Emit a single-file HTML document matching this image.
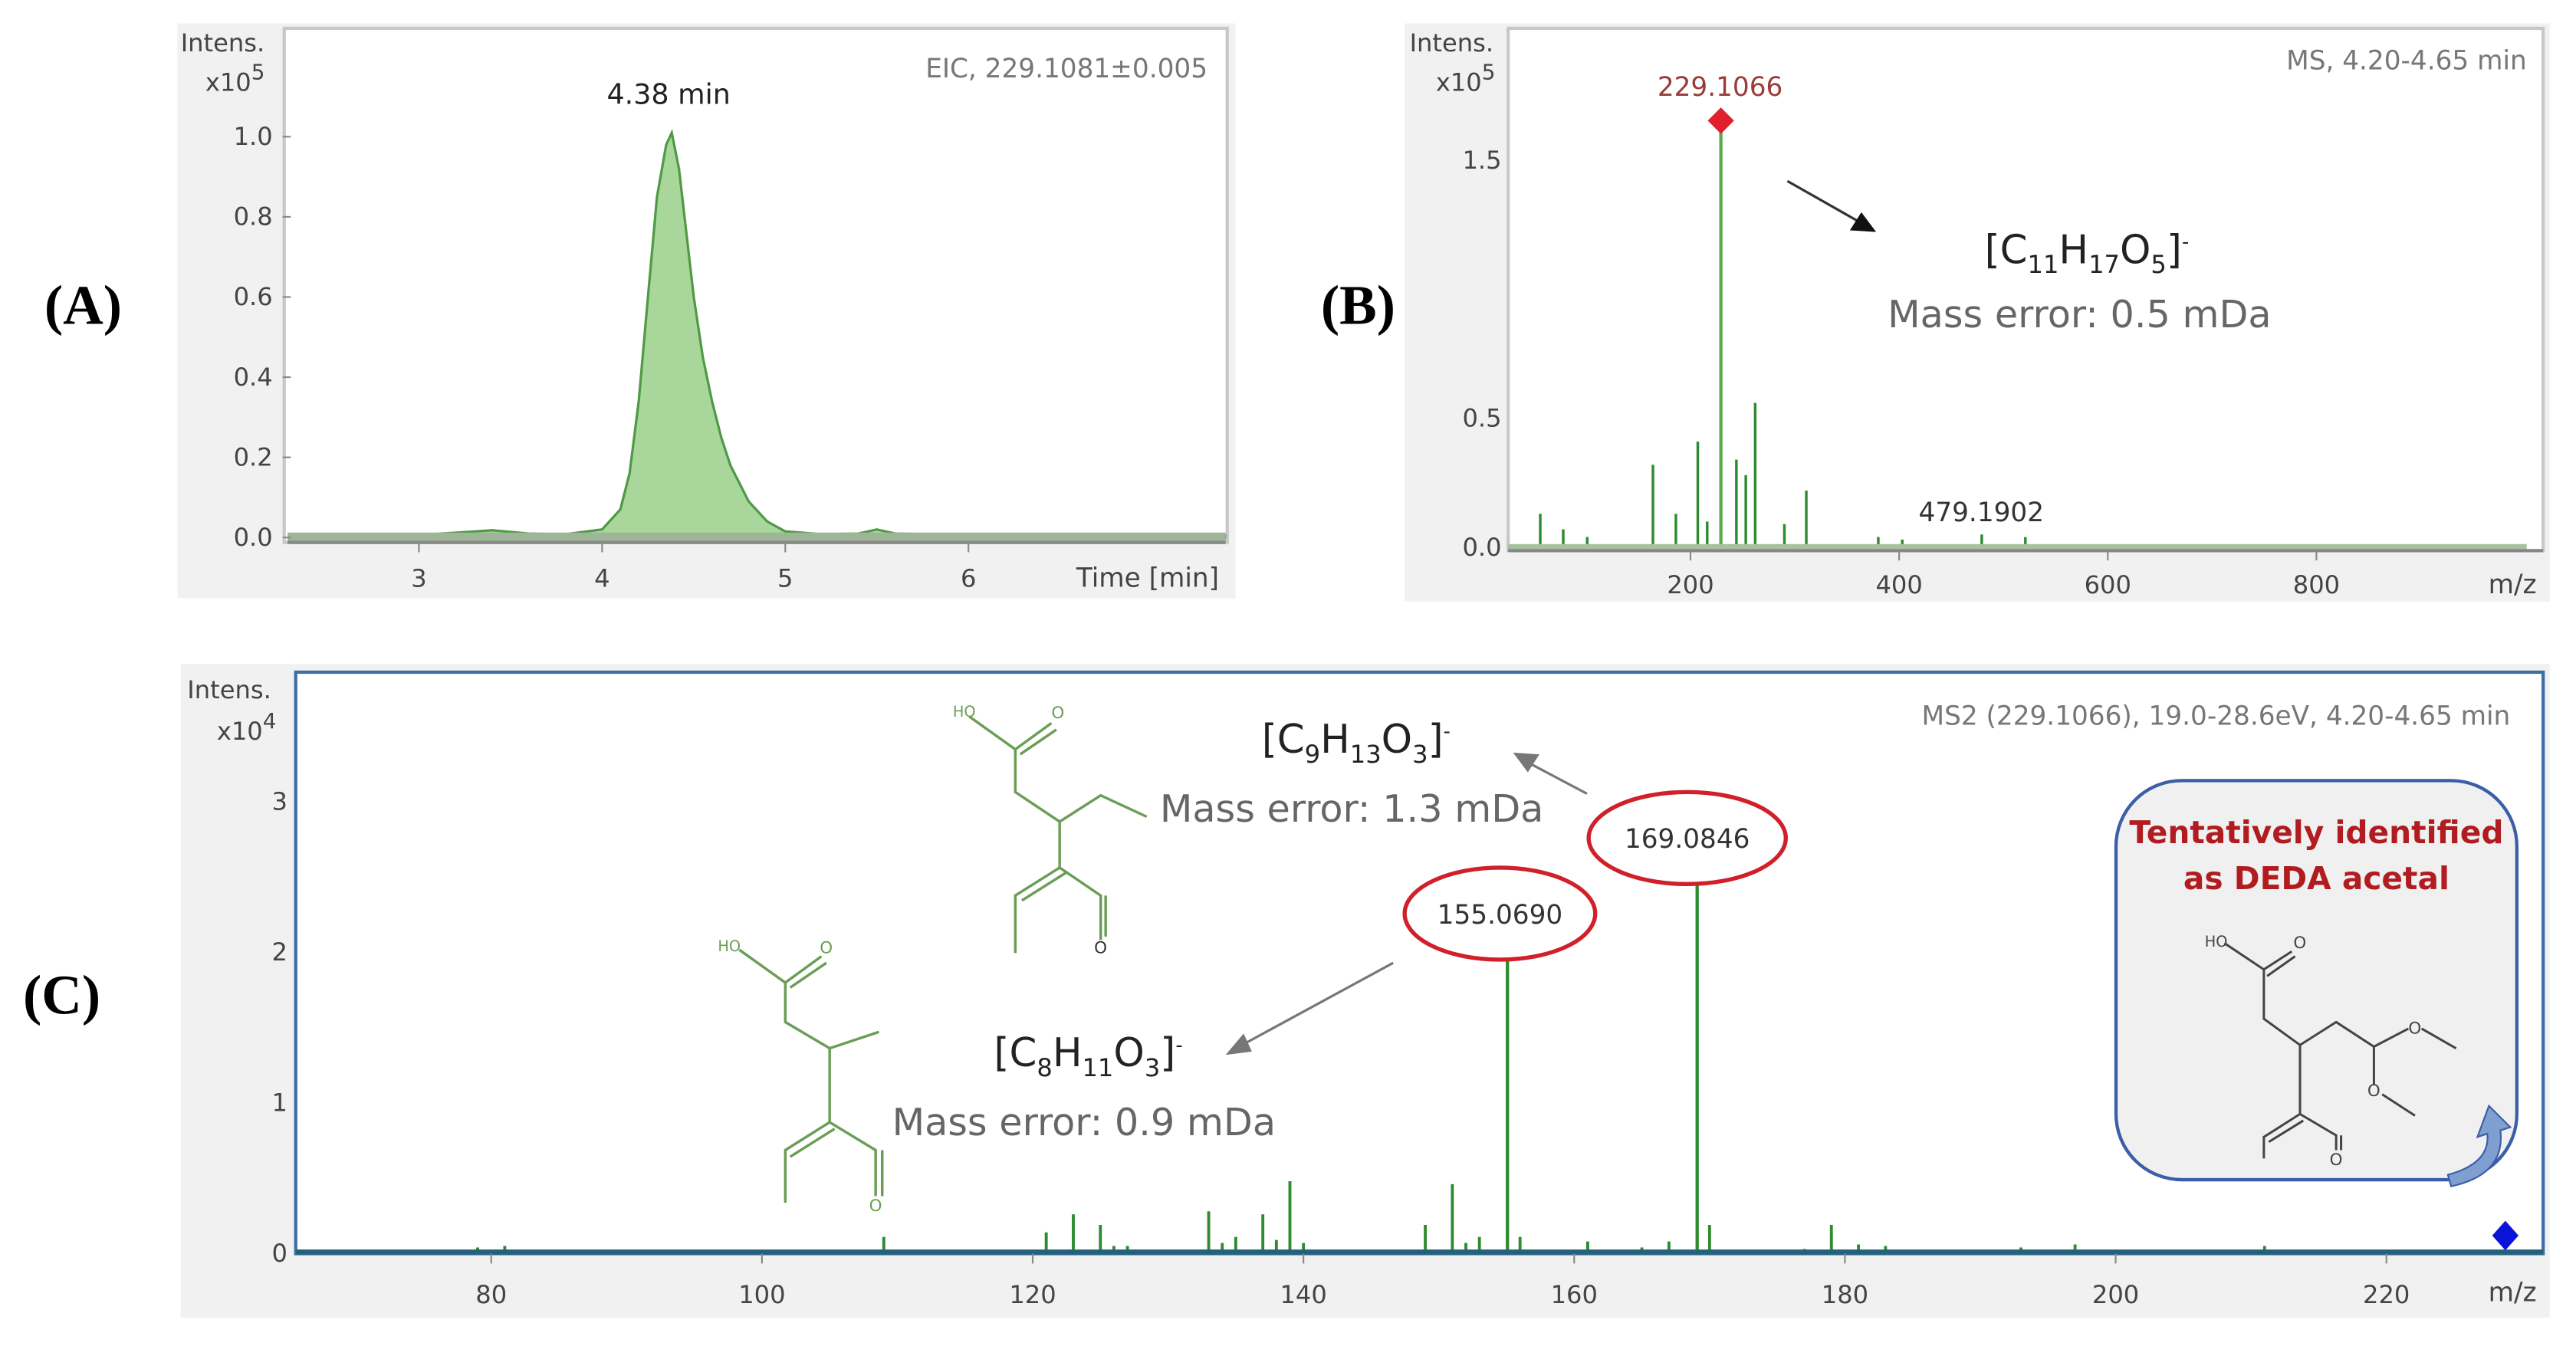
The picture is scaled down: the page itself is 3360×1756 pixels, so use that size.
<!DOCTYPE html>
<html><head><meta charset="utf-8"><style>
html,body{margin:0;padding:0;background:#fff;width:3360px;height:1756px;overflow:hidden}
svg{display:block}
text{font-family:"DejaVu Sans","Liberation Sans",sans-serif}
.tk{font-size:15px;fill:#444}
.lab{font-family:"Liberation Serif",serif;font-weight:bold;font-size:34px;fill:#000}
</style></head><body>
<svg id="fig" width="3360" height="1756" viewBox="0 0 1568 819" xmlns="http://www.w3.org/2000/svg">
<!-- Panel A frame -->
<g>
<rect x="108" y="14" width="644" height="350" fill="#f1f1f1"/>
<rect x="173" y="17" width="574" height="313" fill="#fff" stroke="#c8c8c8" stroke-width="2"/>
<text x="110" y="31" font-size="15" fill="#444">Intens.</text>
<text x="125" y="55" font-size="15" fill="#444">x10<tspan dy="-7" font-size="13">5</tspan></text>
<text x="735" y="47" font-size="16" fill="#777" text-anchor="end">EIC, 229.1081±0.005</text>
<text x="407" y="63" font-size="17" fill="#222" text-anchor="middle">4.38 min</text>
<text x="742" y="357" font-size="16" fill="#444" text-anchor="end">Time [min]</text>
<g id="gA"></g>
</g>
<!-- Panel B -->
<g>
<rect x="855" y="14" width="697" height="352" fill="#f1f1f1"/>
<rect x="918" y="17" width="630" height="318" fill="#fff" stroke="#c8c8c8" stroke-width="2"/>
<text x="858" y="31" font-size="15" fill="#444">Intens.</text>
<text x="874" y="55" font-size="15" fill="#444">x10<tspan dy="-7" font-size="13">5</tspan></text>
<text x="1538" y="42" font-size="16" fill="#777" text-anchor="end">MS, 4.20-4.65 min</text>
<text x="1544" y="361" font-size="16" fill="#444" text-anchor="end">m/z</text>
<text x="1047" y="58" font-size="16" fill="#9b3b3b" text-anchor="middle">229.1066</text>
<text x="1206" y="317" font-size="16" fill="#333" text-anchor="middle">479.1902</text>
<text x="1208" y="160" font-size="24" fill="#222">[C<tspan dy="6" font-size="15">11</tspan><tspan dy="-6">H</tspan><tspan dy="6" font-size="15">17</tspan><tspan dy="-6">O</tspan><tspan dy="6" font-size="15">5</tspan><tspan dy="-6">]</tspan><tspan dy="-9" font-size="12">-</tspan></text>
<text x="1149" y="199" font-size="23" fill="#666">Mass error: 0.5 mDa</text>
<line x1="1088" y1="110" x2="1132" y2="135" stroke="#333" stroke-width="1.5"/>
<polygon points="1142,141 1126,140 1133,129" fill="#111"/>
<g id="gB"></g>
</g>
<!-- Panel C -->
<g>
<rect x="110" y="404" width="1442" height="398" fill="#f1f1f1"/>
<rect x="180" y="409" width="1368" height="354" fill="#fff" stroke="#3f6fa8" stroke-width="2"/>
<text x="114" y="425" font-size="15" fill="#444">Intens.</text>
<text x="132" y="450" font-size="15" fill="#444">x10<tspan dy="-7" font-size="13">4</tspan></text>
<text x="1528" y="441" font-size="16" fill="#777" text-anchor="end">MS2 (229.1066), 19.0-28.6eV, 4.20-4.65 min</text>
<text x="1544" y="792" font-size="16" fill="#444" text-anchor="end">m/z</text>
<g id="gC"></g>
<!-- annotations -->
<text x="768" y="458" font-size="24" fill="#222">[C<tspan dy="6" font-size="15">9</tspan><tspan dy="-6">H</tspan><tspan dy="6" font-size="15">13</tspan><tspan dy="-6">O</tspan><tspan dy="6" font-size="15">3</tspan><tspan dy="-6">]</tspan><tspan dy="-9" font-size="12">-</tspan></text>
<text x="706" y="500" font-size="23" fill="#666">Mass error: 1.3 mDa</text>
<line x1="966" y1="483" x2="932" y2="465" stroke="#777" stroke-width="1.5"/>
<polygon points="921,458 937,459 930,470" fill="#777"/>
<text x="605" y="649" font-size="24" fill="#222">[C<tspan dy="6" font-size="15">8</tspan><tspan dy="-6">H</tspan><tspan dy="6" font-size="15">11</tspan><tspan dy="-6">O</tspan><tspan dy="6" font-size="15">3</tspan><tspan dy="-6">]</tspan><tspan dy="-9" font-size="12">-</tspan></text>
<text x="543" y="691" font-size="23" fill="#666">Mass error: 0.9 mDa</text>
<line x1="848" y1="586" x2="756" y2="636" stroke="#777" stroke-width="1.5"/>
<polygon points="746,642 757,629 762,640" fill="#777"/>
<ellipse cx="1027" cy="510" rx="60" ry="28" fill="#fff" stroke="#d0202a" stroke-width="2.5"/>
<text x="1027" y="516" font-size="16" fill="#333" text-anchor="middle">169.0846</text>
<ellipse cx="913" cy="556" rx="58" ry="28" fill="#fff" stroke="#d0202a" stroke-width="2.5"/>
<text x="913" y="562" font-size="16" fill="#333" text-anchor="middle">155.0690</text>
<!-- structure 1 -->
<g stroke="#6a9d55" stroke-width="1.6" fill="none">
<path d="M590,436 L618,456 L618,482 L645,500 L670,484 L698,497 M645,500 L645,528 L618,545 L618,580 M645,528 L670,545 L670,572 M618,456 L640,440 M621,459 L643,444 M649,531 L622,548 M673,545 L673,570"/>
</g>
<text x="580" y="436" font-size="9" fill="#6a9d55">HO</text>
<text x="640" y="437" font-size="10" fill="#6a9d55">O</text>
<text x="666" y="580" font-size="10" fill="#333">O</text>
<!-- structure 2 -->
<g stroke="#6a9d55" stroke-width="1.6" fill="none">
<path d="M450,578 L478,598 L478,622 L505,638 L535,628 M505,638 L505,683 L478,700 L478,732 M505,683 L533,700 L533,728 M478,598 L500,582 M481,601 L503,586 M508,687 L481,704 M537,700 L537,728"/>
</g>
<text x="437" y="579" font-size="9" fill="#6a9d55">HO</text>
<text x="499" y="580" font-size="10" fill="#6a9d55">O</text>
<text x="529" y="737" font-size="10" fill="#6a9d55">O</text>
<!-- identification box -->
<rect x="1288" y="475" width="244" height="243" rx="40" fill="#f0f0f0" stroke="#3b5ea8" stroke-width="2"/>
<text x="1410" y="513" font-size="19" font-weight="bold" fill="#b01c20" text-anchor="middle" font-family="Liberation Sans">Tentatively identified</text>
<text x="1410" y="541" font-size="19" font-weight="bold" fill="#b01c20" text-anchor="middle" font-family="Liberation Sans">as DEDA acetal</text>
<g stroke="#444" stroke-width="1.4" fill="none">
<path d="M1354,574 L1378,590 L1378,620 L1400,636 L1422,622 L1445,637 L1466,626 M1474,626 L1495,638 M1445,637 L1445,660 M1450,666 L1470,679 M1400,636 L1400,678 L1378,692 L1378,705 M1400,678 L1422,691 L1422,700 M1378,590 L1395,579 M1380,594 L1397,582 M1402,682 L1381,695 M1425,691 L1425,700"/>
</g>
<text x="1342" y="576" font-size="9" fill="#444">HO</text>
<text x="1396" y="577" font-size="10" fill="#444">O</text>
<text x="1466" y="629" font-size="10" fill="#444">O</text>
<text x="1441" y="667" font-size="10" fill="#444">O</text>
<text x="1418" y="709" font-size="10" fill="#444">O</text>
<path d="M1492,722 Q1525,715 1522,688 L1528,686 L1515,673 L1508,692 L1514,690 Q1516,708 1490,715 Z" fill="#7f9fd0" stroke="#3b5ea8" stroke-width="1"/>
<polygon points="1525,743 1533,752 1525,761 1517,752" fill="#0a14d8"/>
</g>
<text x="27" y="197" class="lab">(A)</text>
<text x="804" y="197" class="lab">(B)</text>
<text x="14" y="617" class="lab">(C)</text>
</svg>
<script>
// Panel A: EIC chromatogram
const eicTimes = [2.3,2.8,3.0,3.2,3.4,3.6,3.8,4.0,4.1,4.15,4.2,4.25,4.3,4.35,4.38,4.42,4.46,4.5,4.55,4.6,4.65,4.7,4.8,4.9,5.0,5.2,5.4,5.5,5.6,5.8,6.0,6.3,6.6,7.4];
const eicIntens = [0.005,0.008,0.006,0.012,0.018,0.01,0.008,0.02,0.07,0.16,0.34,0.6,0.85,0.98,1.01,0.92,0.76,0.6,0.45,0.34,0.25,0.18,0.09,0.04,0.015,0.008,0.01,0.02,0.01,0.008,0.008,0.005,0.004,0.004];
const eicYTicks = [0.0,0.2,0.4,0.6,0.8,1.0];
const eicXTicks = [3,4,5,6];
// Panel B: MS spectrum (x1e5)
const msMz = [56,78,101,164,186,207,216,229.1066,244,253,262,290,311,380,403,479.1902,521];
const msIntens = [0.13,0.07,0.04,0.32,0.13,0.41,0.1,1.61,0.34,0.28,0.56,0.09,0.22,0.04,0.03,0.05,0.04];
const msYTicks = [0.0,0.5,1.5];
const msXTicks = [200,400,600,800];
// Panel C: MS2 spectrum (x1e4)
const ms2Mz = [79,81,93,95,105,107,109,121,123,125,126,127,133,134,135,137,138,139,140,149,151,152,153,155.069,156,161,165,167,169.0846,170,177,179,181,183,193,197,211];
const ms2Intens = [0.03,0.04,0.01,0.01,0.01,0.01,0.1,0.13,0.25,0.18,0.04,0.04,0.27,0.06,0.1,0.25,0.08,0.47,0.06,0.18,0.45,0.06,0.1,2.0,0.1,0.07,0.03,0.07,2.45,0.18,0.02,0.18,0.05,0.04,0.03,0.05,0.04];
const ms2YTicks = [0,1,2,3];
const ms2XTicks = [80,100,120,140,160,180,200,220];

const NS='http://www.w3.org/2000/svg';
function mk(parent,tag,attrs){const e=document.createElementNS(NS,tag);for(const k in attrs)e.setAttribute(k,attrs[k]);parent.appendChild(e);return e;}

// ---- Panel A
(function(){
  const g=document.getElementById('gA');
  const x=t=>175+(t-2.3)*111.5*1.0+ (2.3-2.3) + (255-175-(3-2.3)*111.5);
  const y=v=>327-v*244;
  let d='M'+x(eicTimes[0])+','+y(0);
  eicTimes.forEach((t,i)=>{d+=' L'+x(t).toFixed(1)+','+y(eicIntens[i]).toFixed(1);});
  d+=' L'+x(eicTimes[eicTimes.length-1])+','+y(0)+' Z';
  const area=mk(g,'path',{d:d,fill:'#a9d69a',stroke:'#4f9a45','stroke-width':1.5});
  
  
  const base=mk(g,'rect',{x:175,y:324,width:571,height:6,fill:'#9fb59a'});
  
  
  const ax=mk(g,'line',{x1:175,y1:330,x2:746,y2:330,stroke:'#888','stroke-width':2});
  
  
  eicYTicks.forEach(v=>{
    const t=mk(g,'text',{x:166,y:y(v)+5,'text-anchor':'end',class:'tk'});t.textContent=v.toFixed(1);
    
    
    mk(g,'line',{x1:172,y1:y(v),x2:177,y2:y(v),stroke:'#888'});
  });
  eicXTicks.forEach(v=>{
    const t=mk(g,'text',{x:x(v),y:357,'text-anchor':'middle',class:'tk'});t.textContent=v;
    
    
    mk(g,'line',{x1:x(v),y1:330,x2:x(v),y2:336,stroke:'#888'});
  });
})();

// ---- Panel B
(function(){
  const g=document.getElementById('gB');
  const x=m=>1029+(m-200)*0.635;
  const y=v=>333-v*157;
  msMz.forEach((m,i)=>{
    const l=mk(g,'line',{x1:x(m),y1:y(0),x2:x(m),y2:y(msIntens[i]),stroke:i===7?'#5aaa4a':'#2e8b2e','stroke-width':i===7?2:1.6});
    
    
  });
  const px=x(msMz[7]),py=y(msIntens[7]);
  const dm=mk(g,'polygon',{points:`${px},${py-15} ${px+8},${py-7} ${px},${py+1} ${px-8},${py-7}`,fill:'#e0202a'});
  
  
  const base=mk(g,'rect',{x:918,y:331,width:620,height:4,fill:'#a8c0a0'});
  
  
  mk(g,'line',{x1:918,y1:335,x2:1548,y2:335,stroke:'#888','stroke-width':2});
  msYTicks.forEach(v=>{
    const t=mk(g,'text',{x:914,y:y(v)+5,'text-anchor':'end',class:'tk'});t.textContent=v.toFixed(1);
    
    
  });
  msXTicks.forEach(v=>{
    const t=mk(g,'text',{x:x(v),y:361,'text-anchor':'middle',class:'tk'});t.textContent=v;
    
    
    mk(g,'line',{x1:x(v),y1:335,x2:x(v),y2:341,stroke:'#888'});
  });
})();

// ---- Panel C
(function(){
  const g=document.getElementById('gC');
  const x=m=>299+(m-80)*8.24;
  const y=v=>762-v*91.7;
  ms2Mz.forEach((m,i)=>{
    const l=mk(g,'line',{x1:x(m),y1:y(0),x2:x(m),y2:y(ms2Intens[i]),stroke:'#2e8b2e','stroke-width':ms2Intens[i]>1?2:1.8});
    
    
  });
  const ax=mk(g,'line',{x1:180,y1:762,x2:1548,y2:762,stroke:'#24607a','stroke-width':3});
  
  
  ms2YTicks.forEach(v=>{
    const t=mk(g,'text',{x:175,y:y(v)+6,'text-anchor':'end',class:'tk'});t.textContent=v;
    
    
  });
  ms2XTicks.forEach(v=>{
    const t=mk(g,'text',{x:x(v),y:793,'text-anchor':'middle',class:'tk'});t.textContent=v;
    
    
    mk(g,'line',{x1:x(v),y1:763,x2:x(v),y2:769,stroke:'#888'});
  });
})();
</script>
</body></html>
